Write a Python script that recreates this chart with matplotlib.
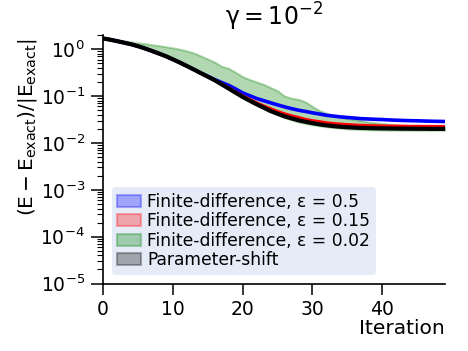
import matplotlib
matplotlib.use("Agg")
import matplotlib.pyplot as plt
from matplotlib.patches import Patch

plt.rcParams['mathtext.default'] = 'regular'

# iterations
iters = list(range(50))

# parameter-shift
ps = [1.70, 1.60, 1.49, 1.38, 1.28, 1.16, 1.04, 0.92, 0.81, 0.71,
      0.61, 0.52, 0.44, 0.37, 0.31, 0.26, 0.218, 0.178, 0.145, 0.118,
      0.096, 0.080, 0.067, 0.057, 0.048, 0.042, 0.037, 0.0335, 0.0305, 0.0283,
      0.0265, 0.0250, 0.0238, 0.0229, 0.0222, 0.0217, 0.0213, 0.0210, 0.0208, 0.0206,
      0.0205, 0.0204, 0.0203, 0.0202, 0.0202, 0.0201, 0.0201, 0.0200, 0.0200, 0.0200]

# finite difference eps=0.15
fd015 = [1.70, 1.60, 1.49, 1.38, 1.28, 1.16, 1.04, 0.92, 0.81, 0.71,
         0.61, 0.52, 0.44, 0.37, 0.31, 0.26, 0.220, 0.182, 0.150, 0.123,
         0.101, 0.085, 0.072, 0.062, 0.054, 0.047, 0.042, 0.038, 0.035, 0.032,
         0.030, 0.0285, 0.0270, 0.0260, 0.0253, 0.0247, 0.0242, 0.0238, 0.0235, 0.0233,
         0.0231, 0.0230, 0.0229, 0.0228, 0.0227, 0.0227, 0.0226, 0.0226, 0.0225, 0.0225]

# finite difference eps=0.5
fd05 = [1.70, 1.60, 1.49, 1.38, 1.28, 1.16, 1.04, 0.92, 0.81, 0.71,
        0.61, 0.52, 0.44, 0.37, 0.31, 0.265, 0.225, 0.195, 0.170, 0.142,
        0.117, 0.102, 0.089, 0.080, 0.072, 0.065, 0.059, 0.054, 0.050, 0.047,
        0.044, 0.0415, 0.039, 0.0375, 0.036, 0.035, 0.034, 0.033, 0.0325, 0.032,
        0.0316, 0.031, 0.0306, 0.0302, 0.0299, 0.0297, 0.0294, 0.0291, 0.0289, 0.0287]

# finite difference eps=0.02 (spread over runs)
fd002_hi = [1.75, 1.66, 1.57, 1.50, 1.43, 1.37, 1.31, 1.25, 1.19, 1.13,
            1.07, 1.00, 0.92, 0.83, 0.72, 0.62, 0.53, 0.43, 0.39, 0.32,
            0.260, 0.225, 0.200, 0.178, 0.152, 0.130, 0.100, 0.090, 0.085, 0.075,
            0.060, 0.049, 0.043, 0.038, 0.036, 0.033, 0.0315, 0.030, 0.028, 0.027,
            0.026, 0.025, 0.024, 0.0235, 0.023, 0.0228, 0.0225, 0.0222, 0.022, 0.022]
fd002_lo = [1.68, 1.58, 1.47, 1.36, 1.26, 1.14, 1.02, 0.90, 0.79, 0.69,
            0.59, 0.50, 0.43, 0.36, 0.30, 0.25, 0.212, 0.173, 0.141, 0.115,
            0.093, 0.077, 0.064, 0.054, 0.046, 0.040, 0.035, 0.031, 0.028, 0.026,
            0.0245, 0.0232, 0.0222, 0.0213, 0.0206, 0.0200, 0.0196, 0.0193, 0.0191, 0.0190,
            0.0189, 0.0188, 0.0188, 0.0187, 0.0187, 0.0187, 0.0187, 0.0187, 0.0187, 0.0187]

labels = ["Finite-difference, ε = 0.5", "Finite-difference, ε = 0.15",
          "Finite-difference, ε = 0.02", "Parameter-shift"]
colors = ["blue", "red", "green", "black"]

fig = plt.figure(figsize=(4.68, 3.51), dpi=100)
ax = fig.add_axes([0.220, 0.192, 0.731, 0.708])

ax.fill_between(iters, fd002_lo, fd002_hi, color="green", alpha=0.3, lw=1.5)
ax.plot(iters, fd05, color="blue", lw=2.6)
ax.plot(iters, fd015, color="red", lw=2.2)
ax.plot(iters, ps, color="black", lw=3.0)

ax.set_yscale("log")
ax.set_ylim(1e-5, 2)
ax.set_xlim(0, 49)
ax.set_xticks([0, 10, 20, 30, 40])

for s in ["top", "right"]:
    ax.spines[s].set_visible(False)
for s in ["left", "bottom"]:
    ax.spines[s].set_linewidth(1.2)

ax.tick_params(which="major", length=8, width=1.1, labelsize=13.5, pad=4)
ax.tick_params(which="minor", length=4, width=0.8)
ax.tick_params(axis="y", which="major", length=9)

ax.set_title(r"$\gamma = 10^{-2}$", fontsize=17, pad=7)
ax.set_xlabel("Iteration", fontsize=14.5, loc="right", labelpad=0)
ax.set_ylabel(r"$(E-E_{exact})/|E_{exact}|$", fontsize=14.5, labelpad=3)
ax.yaxis.set_label_coords(-0.186, 0.63)

handles = [Patch(facecolor=c, edgecolor=c, alpha=0.3, lw=1.5) for c in colors]
leg = ax.legend(handles, labels, loc="lower left", fontsize=12.3,
                facecolor="#e6ebf8", edgecolor="none", framealpha=1,
                labelspacing=0.08, handlelength=1.4, handletextpad=0.35,
                borderpad=0.35, borderaxespad=0.5)

fig.savefig("out.png", dpi=100)
